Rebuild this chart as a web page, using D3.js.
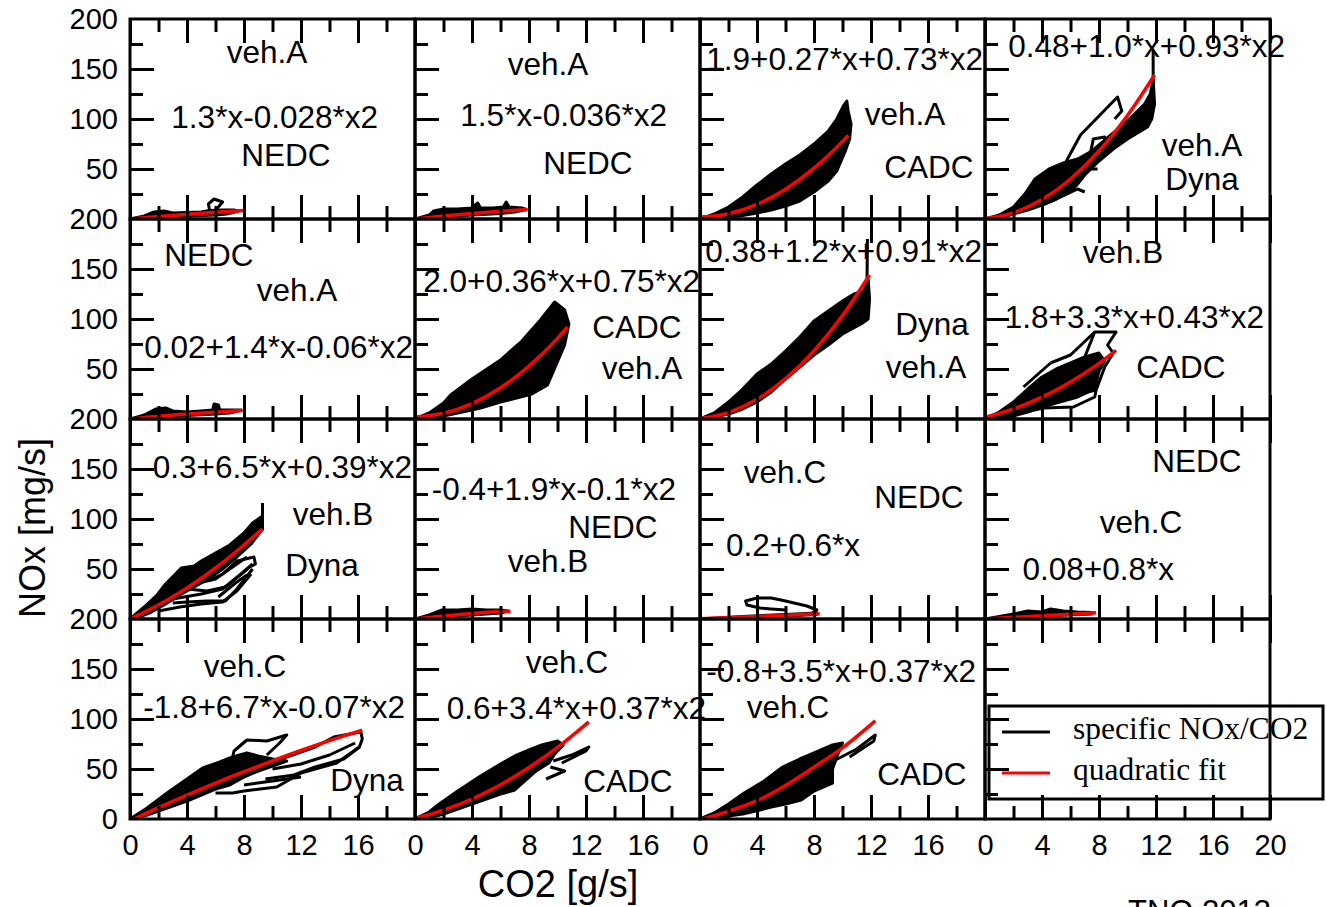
<!DOCTYPE html>
<html>
<head>
<meta charset="utf-8">
<script src="https://cdn.jsdelivr.net/npm/d3@7"></script>
<style>
body { margin: 0; background: #fff; }
svg text { font-family: "Liberation Sans", Arial, sans-serif; }
</style>
</head>
<body>
<div id="chart"></div>
<script>
// panel order: row by row, 15 filled panels, the 16th holds the legend
var vehicles = ["veh.A","veh.A","veh.A","veh.A",
                "veh.A","veh.A","veh.A","veh.B",
                "veh.B","veh.B","veh.C","veh.C",
                "veh.C","veh.C","veh.C"]
var cycles = ["NEDC","NEDC","CADC","Dyna",
              "NEDC","CADC","Dyna","CADC",
              "Dyna","NEDC","NEDC","NEDC",
              "Dyna","CADC","CADC"]
var fitLabels = ["1.3*x-0.028*x2","1.5*x-0.036*x2","1.9+0.27*x+0.73*x2","0.48+1.0*x+0.93*x2",
                 "0.02+1.4*x-0.06*x2","2.0+0.36*x+0.75*x2","0.38+1.2*x+0.91*x2","1.8+3.3*x+0.43*x2",
                 "-0.3+6.5*x+0.39*x2","-0.4+1.9*x-0.1*x2","0.2+0.6*x","0.08+0.8*x",
                 "-1.8+6.7*x-0.07*x2","0.6+3.4*x+0.37*x2","-0.8+3.5*x+0.37*x2"]

var xMajor = [0,4,8,12,16,20]
var xMinor = [2,6,10,14,18]
var yMajor = [50,100,150]
var yMinor = [25,75,125,175]
var xLabels = [0,4,8,12,16]
var xLabelsLast = [0,4,8,12,16,20]
var yLabels = [50,100,150,200]
var yLabelsLast = [0,50,100,150,200]

// quadratic fit curves, CO2 [g/s] vs NOx [mg/s]
var fitPoints = [
  [[0,0],[2,2.5],[4,4.7],[6,6.8],[8,8.6]],
  [[0,0],[2,2.9],[4,5.4],[6,7.7],[7.9,9.6]],
  [[0,1.9],[2,5.3],[4,14.7],[6,29.8],[8,50.8],[10,77.6],[10.4,83.6]],
  [[0,0.5],[2,6.2],[4,19.4],[6,40],[8,68],[10,103.5],[11.9,144]],
  [[0,0],[2,2.8],[4,5],[6,6.8],[7.9,8.5]],
  [[0,2],[2,5.7],[4,15.4],[6,31.2],[8,52.9],[10,80.6],[10.7,92]],
  [[0,0.4],[2,6.4],[4,19.7],[6,40.3],[8,68.2],[10,103.4],[11.9,144]],
  [[0,1.8],[2,10.1],[4,21.9],[6,37.1],[8,55.7],[9.2,68.6]],
  [[0,0],[2,14],[4,31],[6,51],[8,74],[9.3,90]],
  [[0,0],[2,3],[4,5.6],[6,7.4],[6.7,7.8]],
  [[0,0.2],[8.4,5.2]],
  [[0,0.1],[7.8,6.3]],
  [[0.3,0],[2,11.3],[4,23.9],[6,35.9],[8,47.3],[10,58.2],[12,68.5],[14,78.3],[16.3,88.8]],
  [[0,0.6],[2,8.9],[4,20],[6,34.3],[8,51.5],[10,71.6],[12.2,97.2]],
  [[0.2,0],[2,7.7],[4,18.3],[6,33.5],[8,51.9],[10,71.2],[12.3,98.2]]
]

// dense part of the measured NOx/CO2 traces (outline)
var traceCores = [
  [[0,0],[1,3],[1.7,7],[2.4,8],[3,6],[4,6.5],[5,7],[5.6,8.5],[6.5,9],[7.3,9],[7.6,8],[6.8,5],[6,4],[5,3.5],[4,3],[3,2],[2,1.2],[1,0.4]],
  [[0,0],[1,4],[1.3,8],[2,10],[3,10],[4,11],[4.4,16],[4.6,11],[5.5,11],[6.2,12],[6.4,17],[6.6,12],[7.5,11],[7.8,9.5],[7,7],[6,5.5],[4,4],[2,2],[1,0.8]],
  [[0,0],[1,5],[2,12],[3,22],[4,34],[5,45],[6,55],[7,64],[8,75],[9,88],[9.6,100],[10.1,114],[10.3,118],[10.4,108],[10.6,95],[10.5,80],[10.2,68],[9.6,48],[9,38],[8,27],[7,18],[6,13],[5,9],[4,6],[3,3.5],[2,2],[1,0.5]],
  [[0,0],[1,4],[2,12],[2.8,25],[3.5,40],[4.5,50],[5.5,56],[6.5,60],[7.5,68],[8.5,80],[9.5,92],[10.5,105],[11.2,115],[11.6,125],[11.8,140],[11.9,115],[11.7,100],[11.4,92],[10,80],[9,70],[8,58],[7,44],[6.5,35],[6,27],[5,20],[4,14],[3,9],[2,5],[1,1]],
  [[0,0],[1,4],[1.8,10],[2.5,11],[3,8],[4,7],[5,8],[5.8,9],[5.9,15],[6.2,14],[6.3,9],[7,9],[7.8,9],[7,6],[6,5],[4,3.5],[2,2],[1,0.8]],
  [[0,0],[1,6],[2,16],[2.5,24],[4,40],[6,59],[7.5,78],[8.8,99],[9.8,117],[10.5,109],[10.8,95],[10.5,74],[9.3,34],[8.2,25],[7.4,22],[6,17],[4.6,11],[3,6],[2,3],[1,1]],
  [[0,0],[1,6],[2,17],[3,30],[4,45],[5,55],[6,68],[7,82],[8,98],[9,108],[10,118],[10.8,125],[11.5,128],[11.8,140],[11.9,120],[11.8,100],[11.3,95],[10,85],[9,74],[8,64],[7,52],[6,40],[5,27],[4,17],[3,10],[2,5],[1,2]],
  [[0,0],[1,7],[2,17],[3,30],[4,42],[5,50],[6,56],[7,62],[8,66],[8.4,58],[8,48],[7.7,30],[6.5,22],[5,16],[4,12],[3,7],[2,3],[1,1]],
  [[0,0],[1,12],[1.9,24],[2.5,35],[3.6,51],[4.5,53],[5,58],[6,66],[7,74],[8,86],[8.6,96],[9.3,103],[9.3,90],[8.5,75],[7.5,62],[6.5,50],[5.5,40],[4.5,32],[3.5,24],[2.5,15],[1.5,7],[0.5,1]],
  [[0,0],[1,4],[1.9,9],[3,9],[4,10],[5,9],[6,9],[6.5,8],[6,6],[4,4],[2,2],[1,1]],
  [[0,0],[3,2.5],[6,4.5],[8.2,6],[8.2,4.5],[6,3],[3,1.5]],
  [[0,0],[2,5],[3,8],[4,7],[4.6,10],[5.5,8],[6.5,7],[7.5,6.5],[7.5,5],[5,3.5],[3,2],[1,0.5]],
  [[0,0],[1.2,11],[2.6,26],[4,40],[5.1,51],[6.3,57],[7.2,62],[8.2,66],[9,63],[10,60],[11,58],[9,48],[8,42],[7,34],[6,30],[5,24],[4,18],[3,13],[2,8],[1,3]],
  [[0,0],[1,7],[1.6,14],[3,28],[4.6,43],[6,55],[7,63],[8,69],[8.9,74],[10,78],[10.4,74],[9.8,65],[9.4,56],[8.5,48],[7,29],[6,25],[5,20],[4,15],[3,10],[2,5],[1,1]],
  [[0,0],[1,6],[2,15],[3.1,26],[4.5,38],[5.8,52],[7,60],[8,66],[9.3,74],[10,76],[9.6,62],[9.3,50],[9.3,36],[8,28],[7.1,19],[6,15],[5,12],[4.2,9],[3,5],[2,3],[1,1]]
]

// open loops of the traces outside the dense part
var traceLoops = [
  [[[5.6,8],[5.5,15],[5.9,20],[6.5,17],[6.2,12],[6,8]]],
  [],
  [],
  [[[5.6,55],[6.7,84],[9.3,122],[9.6,108],[9.1,100]],[[7.4,66],[7.6,80],[8.4,82],[8.4,72]],[[11.8,120],[11.8,169]],[[6.8,50],[7.9,50]],[[4,14],[5,20],[6.5,30],[7,27]]],
  [],
  [],
  [[[11.7,110],[11.75,180]],[[10.4,119],[11.3,125],[11.6,115]]],
  [[[7,62],[7.7,87],[9.2,87],[8.6,74],[9,66],[8.4,52]],[[4.6,56],[6,64],[7.7,87]],[[2.7,32],[4.6,56]],[[2.5,6],[4.1,11],[6.2,12],[7.7,22],[7.8,29],[8.4,52]],[[3.5,12],[4.3,18],[6.3,24],[7.8,29]]],
  [[[9.3,90],[9.3,116]],[[4,30],[5.4,28],[6.7,32],[8.4,52],[8.8,55],[8.7,62],[7.5,58],[6.5,45],[5.5,38]],[[3,16],[4,17],[5.4,18],[6.7,18],[7.5,30],[8.6,50]],[[6.2,22],[7.4,36],[8.2,44]],[[2,8],[3.5,12],[5,15],[6.5,17],[7.5,28],[8.5,45]],[[3,20],[5,25],[6.5,30],[7.8,45],[8.6,55]],[[4.5,35],[6,40],[7,50],[8.2,62]]],
  [],
  [[[7.9,6],[8.2,9],[7.5,13],[6,18],[5,21],[4,21],[3.2,18],[3.3,14],[4.2,11],[5,10],[6,9]]],
  [],
  [[[7.2,62],[7.3,68],[8.2,79],[9.6,78],[11,84],[10.5,76],[9.6,64]],[[9,55],[11,62],[13,72],[14.3,82],[16.2,87],[16.3,80],[16.1,72],[14.5,56],[12,46],[10.3,32],[8,28],[7.2,26],[6,26]],[[10,50],[12,55],[14,64],[15.8,76]],[[9.5,40],[11.5,44],[13,52],[15,60],[16.1,72]],[[8,34],[10,38],[12,42]]],
  [[[9.7,58],[11,64],[12.2,72],[12,68],[10.3,56]],[[9.5,52],[10.5,48],[9.2,40]]],
  [[[9.5,59],[11,70],[12.3,84],[12.2,78],[10.5,62]]]
]

// label placement inside each panel (pixels from the panel's top left)
var vehPos = [[137,44],[133,56],[205,106],[217,137],[167,82],[227,160],[226,159],[138,44],
              [203,106],[133,153],[85,64],[156,114],[115,58],[152,54],[88,99]]
var cycPos = [[156,147],[173,155],[229,159],[217,171],[79,47],[222,119],[232,116],[196,159],
              [192,157],[198,119],[219,89],[212,53],[237,172],[213,173],[222,166]]
var eqPos = [[248,109],[252,107],[283,51],[300,38],[283,139],[285,73],[282,43],[279,109],
             [282,59],[261,81],[160,137],[189,161],[275,99],[291,100],[276,63]]

var width = 1327, height = 907
var marginLeft = 130, marginTop = 19, pw = 285, ph = 200

var svg = d3.select("#chart")
	.append("svg")
	.attr("width", width)
	.attr("height", height)

svg.append("defs").append("clipPath")
	.attr("id", "panelclip")
	.append("rect")
	.attr("width", pw)
	.attr("height", ph)

var x = d3.scaleLinear().domain([0, 20]).range([0, pw])
var y = d3.scaleLinear().domain([0, 200]).range([ph, 0])

var line = d3.line().x(function(d){return x(d[0])}).y(function(d){return y(d[1])})
var fitLine = d3.line().x(function(d){return x(d[0])}).y(function(d){return y(d[1])}).curve(d3.curveMonotoneX)

function tickAxis(g, axis){
	g.call(axis)
	g.select(".domain").remove()
	g.selectAll(".tick line").attr("stroke", "#000").attr("stroke-width", 3)
}

function labelAxis(g, axis){
	g.call(axis)
	g.select(".domain").remove()
	g.selectAll(".tick line").remove()
	g.attr("font-size", 29).attr("font-family", "Liberation Sans, Arial, sans-serif")
	g.selectAll("text").attr("fill", "#000")
}

for (var i = 0; i < 16; i++){
	var r = Math.floor(i / 4), c = i % 4
	var g = svg.append("g").attr("transform", "translate(" + (marginLeft + c * pw) + "," + (marginTop + r * ph) + ")")

	if (i < 15){
		var data = g.append("g").attr("clip-path", "url(#panelclip)")
		data.append("path")
			.attr("d", line(traceCores[i]) + "Z")
			.attr("fill", "#000")
			.attr("stroke", "#000")
			.attr("stroke-width", 3)
			.attr("stroke-linejoin", "round")
		data.selectAll(".loop")
			.data(traceLoops[i])
			.enter().append("path")
			.attr("class", "loop")
			.attr("d", line)
			.attr("fill", "none")
			.attr("stroke", "#000")
			.attr("stroke-width", 3)
			.attr("stroke-linejoin", "round")
		data.append("path")
			.attr("d", fitLine(fitPoints[i]))
			.attr("fill", "none")
			.attr("stroke", "#ff0000")
			.attr("stroke-width", 3.5)
	}

	tickAxis(g.append("g").attr("transform", "translate(0," + ph + ")"),
		d3.axisBottom(x).tickValues(xMajor).tickSize(-24).tickSizeOuter(0).tickFormat(""))
	tickAxis(g.append("g").attr("transform", "translate(0," + ph + ")"),
		d3.axisBottom(x).tickValues(xMinor).tickSize(-13).tickSizeOuter(0).tickFormat(""))
	tickAxis(g.append("g"),
		d3.axisTop(x).tickValues(xMajor).tickSize(-24).tickSizeOuter(0).tickFormat(""))
	tickAxis(g.append("g"),
		d3.axisTop(x).tickValues(xMinor).tickSize(-13).tickSizeOuter(0).tickFormat(""))
	tickAxis(g.append("g"),
		d3.axisLeft(y).tickValues(yMajor).tickSize(-24).tickSizeOuter(0).tickFormat(""))
	tickAxis(g.append("g"),
		d3.axisLeft(y).tickValues(yMinor).tickSize(-13).tickSizeOuter(0).tickFormat(""))

	g.append("rect")
		.attr("width", pw)
		.attr("height", ph)
		.attr("fill", "none")
		.attr("stroke", "#000")
		.attr("stroke-width", 3)

	if (r == 3){
		labelAxis(g.append("g").attr("transform", "translate(0," + ph + ")"),
			d3.axisBottom(x).tickValues(c == 3 ? xLabelsLast : xLabels).tickSize(0).tickPadding(15))
	}
	if (c == 0){
		labelAxis(g.append("g"),
			d3.axisLeft(y).tickValues(r == 3 ? yLabelsLast : yLabels).tickSize(0).tickPadding(12))
	}

	if (i < 15){
		var labels = [
			{t: vehicles[i], p: vehPos[i], a: "middle"},
			{t: cycles[i], p: cycPos[i], a: "middle"},
			{t: fitLabels[i], p: eqPos[i], a: "end"}
		]
		g.selectAll(".plabel")
			.data(labels)
			.enter().append("text")
			.attr("class", "plabel")
			.attr("x", function(d){return d.p[0]})
			.attr("y", function(d){return d.p[1]})
			.attr("text-anchor", function(d){return d.a})
			.attr("font-size", 31.5)
			.text(function(d){return d.t})
	}
}

// axis titles
svg.append("text")
	.attr("transform", "translate(45,528) rotate(-90)")
	.attr("text-anchor", "middle")
	.attr("font-size", 36)
	.text("NOx [mg/s]")

svg.append("text")
	.attr("x", 558)
	.attr("y", 897)
	.attr("text-anchor", "middle")
	.attr("font-size", 38)
	.text("CO2 [g/s]")

svg.append("text")
	.attr("x", 1128)
	.attr("y", 922)
	.attr("font-size", 31)
	.text("TNO 2013")

// legend
var legendItems = [{name: "specific NOx/CO2", color: "#000"}, {name: "quadratic fit", color: "#ff0000"}]
var legend = svg.append("g").attr("transform", "translate(989,706)")
legend.append("rect")
	.attr("width", 334)
	.attr("height", 93)
	.attr("fill", "none")
	.attr("stroke", "#000")
	.attr("stroke-width", 3)
var items = legend.selectAll(".item")
	.data(legendItems)
	.enter().append("g")
	.attr("class", "item")
	.attr("transform", function(d, k){return "translate(0," + (26 + k * 41) + ")"})
items.append("line")
	.attr("x1", 13).attr("x2", 61)
	.attr("stroke", function(d){return d.color})
	.attr("stroke-width", 3)
items.append("text")
	.attr("x", 84)
	.attr("y", 7)
	.attr("font-size", 31.5)
	.style("font-family", "'Liberation Serif', 'Times New Roman', serif")
	.text(function(d){return d.name})
</script>
</body>
</html>
